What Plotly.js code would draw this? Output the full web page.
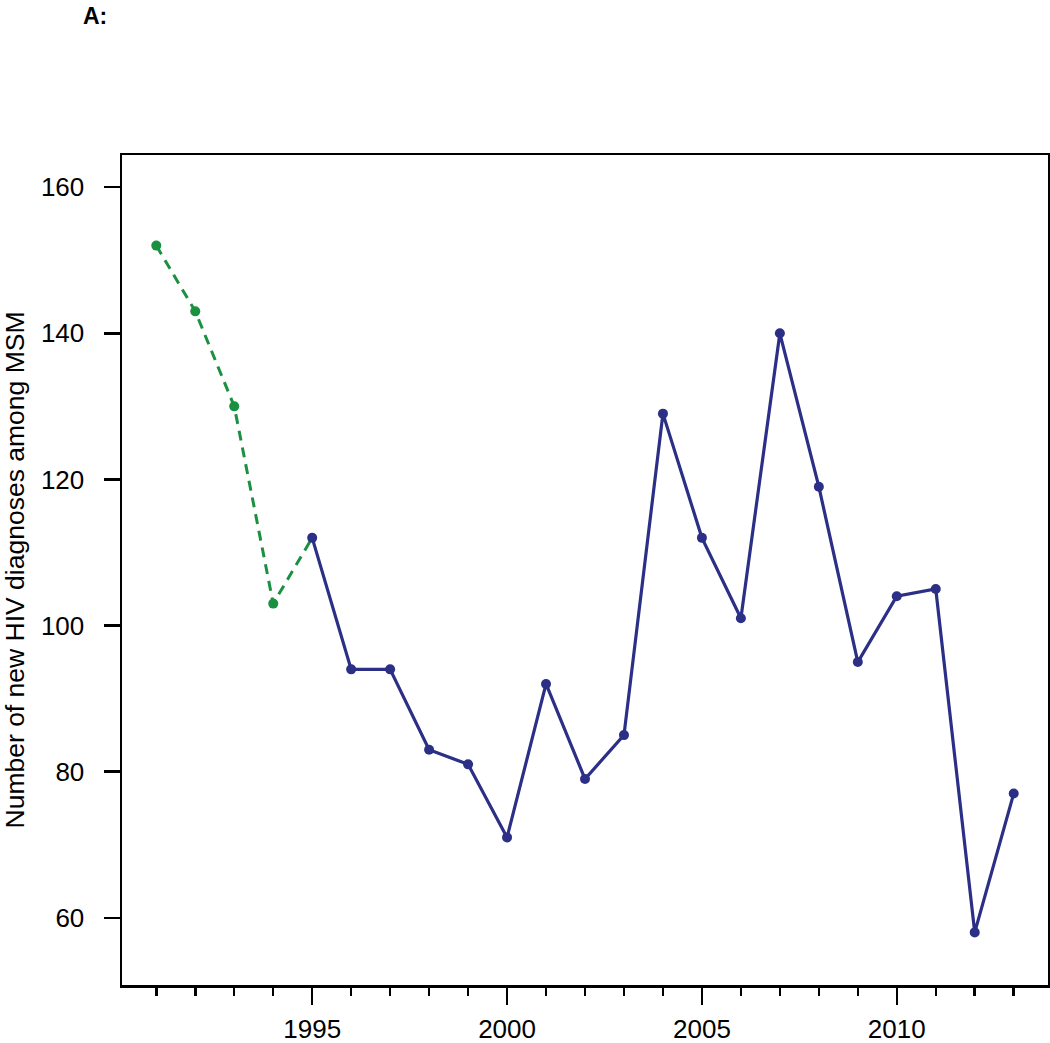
<!DOCTYPE html>
<html>
<head>
<meta charset="utf-8">
<script src="https://cdn.plot.ly/plotly-3.0.1.min.js"></script>
<style>body{margin:0;padding:0;background:#fff;}</style>
</head>
<body>
<div id="chart" style="width:1050px;height:1043px;"></div>
<script>
const earlyYears = [1991, 1992, 1993, 1994, 1995];
const earlyValues = [152, 143, 130, 103, 112];
const mainYears = [1995, 1996, 1997, 1998, 1999, 2000, 2001, 2002, 2003, 2004, 2005, 2006, 2007, 2008, 2009, 2010, 2011, 2012, 2013];
const mainValues = [112, 94, 94, 83, 81, 71, 92, 79, 85, 129, 112, 101, 140, 119, 95, 104, 105, 58, 77];
const yTicks = [60, 80, 100, 120, 140, 160];
const xTicks = [1995, 2000, 2005, 2010];

const green = '#1a9140';
const navy = '#2b2f86';

const traces = [
  {
    x: earlyYears.slice(0, 4), y: earlyValues.slice(0, 4), type: 'scatter', mode: 'markers',
    marker: {color: green, size: 10}, showlegend: false
  },
  {
    x: earlyYears, y: earlyValues, type: 'scatter', mode: 'lines',
    line: {color: green, width: 3, dash: '10px,7px'}, showlegend: false
  },
  {
    x: mainYears, y: mainValues, type: 'scatter', mode: 'lines+markers',
    line: {color: navy, width: 3.2}, marker: {color: navy, size: 10}, showlegend: false
  }
];

const layout = {
  width: 1050, height: 1043,
  margin: {l: 122, r: 2, t: 155, b: 58},
  paper_bgcolor: '#fff', plot_bgcolor: '#fff',
  font: {family: 'Liberation Sans, Arial, sans-serif', size: 26, color: '#000'},
  xaxis: {
    range: [1990.12, 2013.88],
    tickmode: 'array', tickvals: xTicks, ticktext: xTicks.map(String),
    ticks: 'outside', ticklen: 17, tickwidth: 2.5, tickcolor: '#000',
    minor: {dtick: 1, tick0: 1991, ticks: 'outside', ticklen: 8, tickwidth: 2.5, tickcolor: '#000', showgrid: false},
    ticklabelstandoff: 2,
    showline: true, mirror: true, linewidth: 2.5, linecolor: '#000',
    showgrid: false, zeroline: false,
    tickfont: {size: 26}
  },
  yaxis: {
    range: [50.8, 164.4],
    tickmode: 'array', tickvals: yTicks, ticktext: yTicks.map(String),
    ticks: 'outside', ticklen: 16, tickwidth: 2.5, tickcolor: '#000',
    ticklabelstandoff: 14,
    showline: true, mirror: true, linewidth: 2.5, linecolor: '#000',
    showgrid: false, zeroline: false,
    tickfont: {size: 26},
    title: {text: 'Number of new HIV diagnoses among MSM', font: {size: 26.5}, standoff: 24}
  },
  annotations: [
    {text: '<b>A:</b>', xref: 'paper', yref: 'paper', x: 0, y: 1, xanchor: 'left', yanchor: 'middle',
     xshift: -41, yshift: 139, showarrow: false, font: {size: 23, color: '#000'}}
  ]
};

Plotly.newPlot('chart', traces, layout, {displayModeBar: false, staticPlot: true});
</script>
</body>
</html>
